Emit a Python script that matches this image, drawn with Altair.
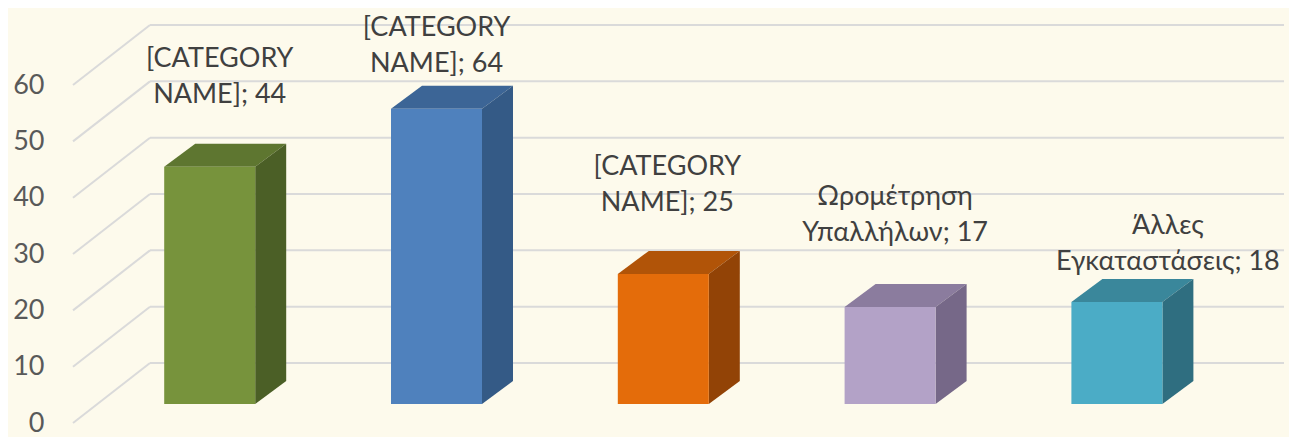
import altair as alt
import pandas as pd

# ---- data ----
categories = ["[CATEGORY NAME]", "[CATEGORY NAME]", "[CATEGORY NAME]",
              "Ωρομέτρηση Υπαλλήλων", "Άλλες Εγκαταστάσεις"]
label_values = [44, 64, 25, 17, 18]          # values printed in the data labels
bar_heights = [42.1, 52.4, 23.1, 17.2, 18.1]  # heights the columns are drawn at
y_ticks = [0, 10, 20, 30, 40, 50, 60]

# ---- styles ----
front_colors = ["#77933C", "#4F81BD", "#E46C0A", "#B3A2C7", "#4BACC6"]
top_colors = ["#5E7630", "#3C6596", "#B15408", "#8B7C9E", "#3A879B"]
side_colors = ["#4B5F26", "#345A86", "#924306", "#766888", "#2F6E80"]
BG = "#FDFAEC"
GRID = "#DADADA"
FONT = "Lato"

# ---- layout (pixels) ----
PX = 5.633          # px per value unit
ZERO = 423          # page y of value 0 on the front axis
X0, X1 = 73, 1289   # plot area, page x
TOP, BOTTOM = 8, 429
WALL_X, WALL_END = 150, 1284
WALL_DY = 60 / PX   # floor depth (value units)
FIRST_C, STEP, HALF = 209.7, 226.8, 45.5
DEPTH_X, DEPTH_Y = 31, 23 / PX
BASE = 19 / PX
label_dx = [10, 0, 4, 5, 51]
label_gap = [49, 22, 48, 51, 17]
LINE_H = 36

xs = alt.Scale(domain=[X0, X1], nice=False, zero=False)
ys = alt.Scale(domain=[(ZERO - BOTTOM) / PX, (ZERO - TOP) / PX], nice=False, zero=False)
yaxis = alt.Axis(values=y_ticks, labelFont=FONT, labelFontSize=27, labelColor="#595959",
                 labelPadding=29, ticks=False, domain=False, grid=False, title=None,
                 labelOverlap=False, labelFlush=False)

front_rows, side_rows, top_rows, lab_rows = [], [], [], []
for i, (cat, h, lv) in enumerate(zip(categories, bar_heights, label_values)):
    c = FIRST_C + i * STEP
    xl, xr = c - HALF, c + HALF
    yb, yt = BASE, BASE + h
    front_rows.append(dict(bar=i, xl=xl, xr=xr, yb=yb, yt=yt, col=front_colors[i]))
    side_rows += [dict(bar=i, x=xr, y=yb, y2=yt, col=side_colors[i]),
                  dict(bar=i, x=xr + DEPTH_X, y=yb + DEPTH_Y, y2=yt + DEPTH_Y, col=side_colors[i])]
    top_rows += [dict(bar=i, y=yt, x=xl, x2=xr, col=top_colors[i]),
                 dict(bar=i, y=yt + DEPTH_Y, x=xl + DEPTH_X, x2=xr + DEPTH_X, col=top_colors[i])]
    text = f"{cat}; {lv}"
    first, second = text.split(" ", 1)
    y2 = yt + DEPTH_Y + label_gap[i] / PX
    lab_rows += [dict(x=c + label_dx[i], y=y2 + LINE_H / PX, t=first),
                 dict(x=c + label_dx[i], y=y2, t=second)]

grid_rows = []
for v in y_ticks:
    grid_rows.append(dict(x=X0, x2=WALL_X, y=v, y2=v + WALL_DY))
    grid_rows.append(dict(x=WALL_X, x2=WALL_END, y=v + WALL_DY, y2=v + WALL_DY))

grid = alt.Chart(pd.DataFrame(grid_rows)).mark_rule(color=GRID, strokeWidth=2).encode(
    x=alt.X("x:Q", scale=xs, axis=None), x2="x2:Q",
    y=alt.Y("y:Q", scale=ys, axis=yaxis), y2="y2:Q")

top = alt.Chart(pd.DataFrame(top_rows)).mark_area(orient="horizontal").encode(
    y=alt.Y("y:Q", scale=ys, axis=yaxis), x=alt.X("x:Q", scale=xs, axis=None), x2="x2:Q",
    detail="bar:N", color=alt.Color("col:N", scale=None))

side = alt.Chart(pd.DataFrame(side_rows)).mark_area(orient="vertical").encode(
    x=alt.X("x:Q", scale=xs, axis=None), y=alt.Y("y:Q", scale=ys, axis=yaxis), y2="y2:Q",
    detail="bar:N", color=alt.Color("col:N", scale=None))

front = alt.Chart(pd.DataFrame(front_rows)).mark_rect().encode(
    x=alt.X("xl:Q", scale=xs, axis=None), x2="xr:Q",
    y=alt.Y("yb:Q", scale=ys, axis=yaxis), y2="yt:Q",
    color=alt.Color("col:N", scale=None))

labels = alt.Chart(pd.DataFrame(lab_rows)).mark_text(
    font=FONT, fontSize=27, color="#404040", align="center", baseline="middle").encode(
    x=alt.X("x:Q", scale=xs, axis=None), y=alt.Y("y:Q", scale=ys, axis=yaxis), text="t:N")

chart = alt.layer(grid, top, side, front, labels).properties(
    width=X1 - X0, height=BOTTOM - TOP,
    autosize=alt.AutoSizeParams(type="none"),
    padding={"left": X0 - 8, "top": 0, "right": 0, "bottom": 8},
).configure(background=BG).configure_view(stroke=None)

chart.save("out.html", embed_options={"renderer": "svg", "actions": False})
